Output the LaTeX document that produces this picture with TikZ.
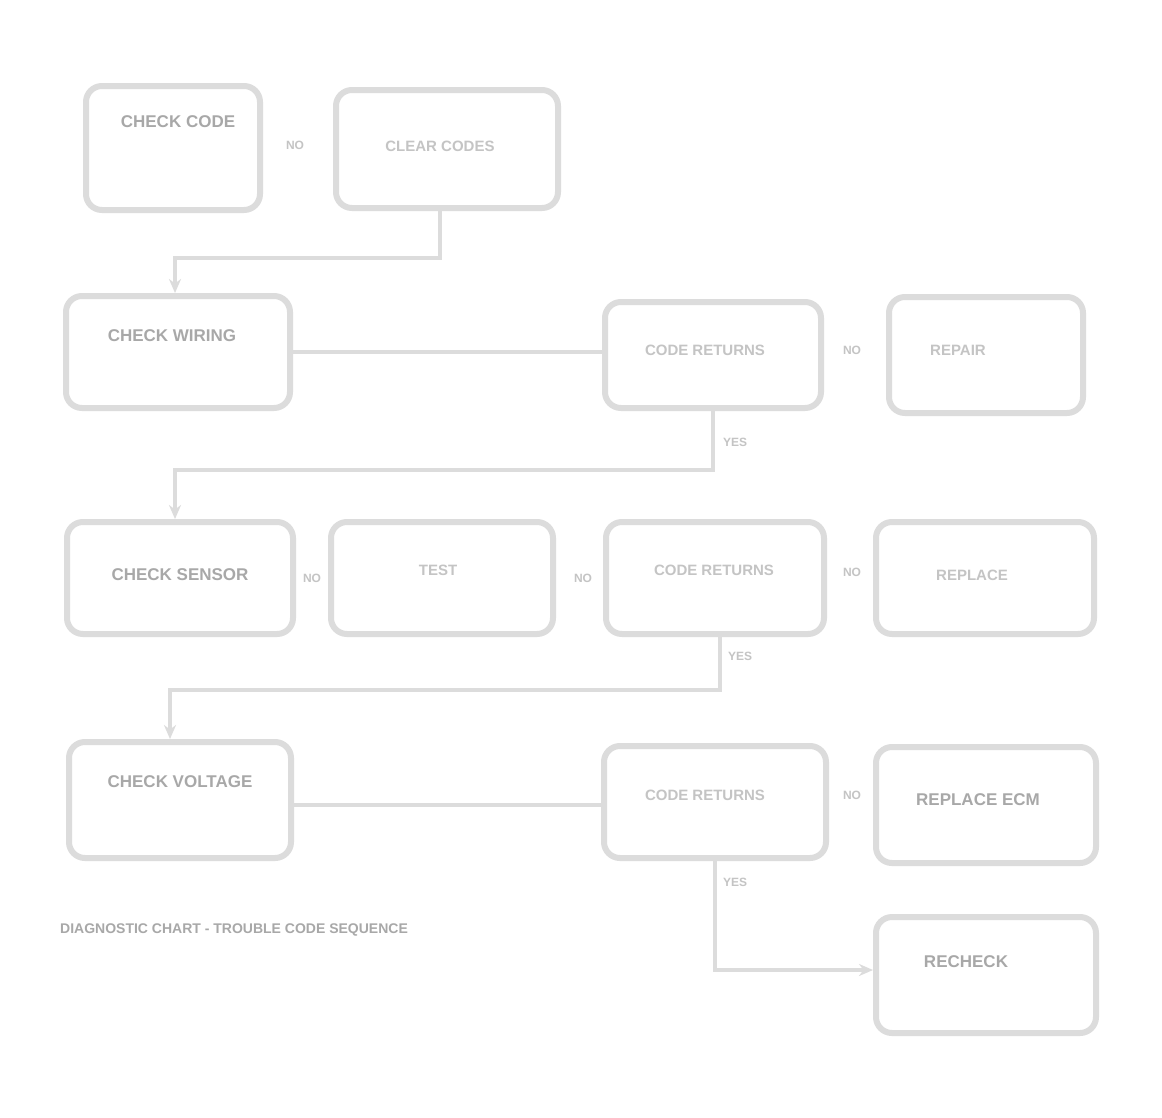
\documentclass[tikz,border=0pt]{standalone}
\usepackage{fontspec}
\setmainfont{Liberation Sans}
\usetikzlibrary{arrows.meta}
\definecolor{linegray}{HTML}{DCDCDC}
\definecolor{textgray}{HTML}{A8A8A8}
\definecolor{lightText}{HTML}{C4C4C4}
\begin{document}
\begin{tikzpicture}[x=1pt,y=-1pt,
  box/.style={draw=linegray, line width=6pt, rounded corners=16pt, fill=white},
  txt/.style={text=textgray, font=\bfseries\fontsize{17}{19}\selectfont, inner sep=0pt, align=center},
  ltxt/.style={text=lightText, font=\bfseries\fontsize{15}{17}\selectfont, inner sep=0pt, align=center},
  yn/.style={text=lightText, font=\bfseries\fontsize{12}{14}\selectfont, inner sep=1pt},
  conn/.style={draw=linegray, line width=4pt},
  arr/.style={conn, -{Stealth[length=14pt,width=12pt]}}]
\useasboundingbox (0,0) rectangle (1162,1117);
\fill[white] (0,0) rectangle (1162,1117);
% row 1
\node[box, minimum width=174pt, minimum height=124pt] (A) at (173,148) {};
\node[box, minimum width=222pt, minimum height=118pt] (B) at (447,149) {};
% row 2
\node[box, minimum width=224pt, minimum height=112pt] (C) at (178,352) {};
\node[box, minimum width=216pt, minimum height=106pt] (D) at (713,355) {};
\node[box, minimum width=194pt, minimum height=116pt] (E) at (986,355) {};
% row 3
\node[box, minimum width=226pt, minimum height=112pt] (F) at (180,578) {};
\node[box, minimum width=222pt, minimum height=112pt] (G) at (442,578) {};
\node[box, minimum width=218pt, minimum height=112pt] (H) at (715,578) {};
\node[box, minimum width=218pt, minimum height=112pt] (I) at (985,578) {};
% row 4
\node[box, minimum width=222pt, minimum height=116pt] (J) at (180,800) {};
\node[box, minimum width=222pt, minimum height=112pt] (K) at (715,802) {};
\node[box, minimum width=220pt, minimum height=116pt] (L) at (986,805) {};
\node[box, minimum width=220pt, minimum height=116pt] (M) at (986,975) {};
% texts
\node[txt] (At) at (178,122) {CHECK CODE};
\node[ltxt] (Bt) at (440,146) {CLEAR CODES};
\node[txt] (Ct) at (172,336) {CHECK WIRING};
\node[ltxt] (Dt) at (705,350) {CODE RETURNS};
\node[ltxt] (Et) at (958,350) {REPAIR};
\node[txt] (Ft) at (180,575) {CHECK SENSOR};
\node[ltxt] (Gt) at (438,570) {TEST};
\node[ltxt] (Ht) at (714,570) {CODE RETURNS};
\node[ltxt] (It) at (972,575) {REPLACE};
\node[txt] (Jt) at (180,782) {CHECK VOLTAGE};
\node[ltxt] (Kt) at (705,795) {CODE RETURNS};
\node[txt] (Lt) at (978,800) {REPLACE ECM};
\node[txt] (Mt) at (966,962) {RECHECK};
% small labels between boxes
\node[yn] (y1) at (295,145) {NO};
\node[yn] (y2) at (852,350) {NO};
\node[yn] (y3) at (312,578) {NO};
\node[yn] (y4) at (583,578) {NO};
\node[yn] (y5) at (852,572) {NO};
\node[yn] (y6) at (852,795) {NO};
\node[yn, anchor=west] (y7) at (722,442) {YES};
\node[yn, anchor=west] (y8) at (727,656) {YES};
\node[yn, anchor=west] (y9) at (722,882) {YES};
% coordinates for connector bends
\coordinate (b1) at (440,258);
\coordinate (d1) at (713,470);
\coordinate (h1) at (720,690);
\coordinate (k1) at (715,970);
% connectors
\draw[arr] ([xshift=-7pt]B.south) -- (b1) -| ([xshift=-3pt]C.north);
\draw[conn] (C.east) -- (C.east -| D.west);
\draw[arr] (D.south) -- (d1) -| ([xshift=-5pt]F.north);
\draw[arr] ([xshift=5pt]H.south) -- (h1) -| ([xshift=-10pt]J.north);
\draw[conn] ([yshift=-5pt]J.east) -- ([yshift=-5pt]J.east -| K.west);
\draw[arr] (K.south) -- (k1) -- (k1 -| M.west);
% footer
\node[txt, anchor=west, font=\bfseries\fontsize{14}{16}\selectfont] (foot) at (60,930) {DIAGNOSTIC CHART - TROUBLE CODE SEQUENCE};
\end{tikzpicture}
\end{document}
